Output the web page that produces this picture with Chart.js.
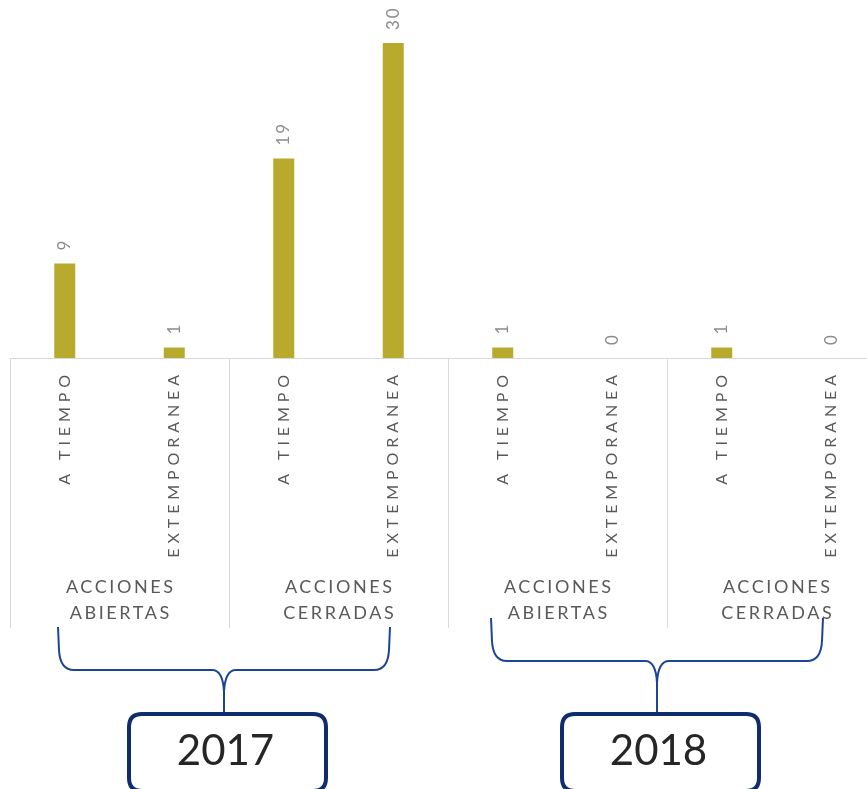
<!DOCTYPE html>
<html>
<head>
<meta charset="utf-8">
<script src="https://cdn.jsdelivr.net/npm/chart.js@4/dist/chart.umd.min.js"></script>
<style>
  html, body { margin: 0; padding: 0; background: #fff; overflow: hidden; }
</style>
</head>
<body>
<canvas id="myChart" width="900" height="789"></canvas>
<script>
// data
const subLabels = ['A TIEMPO', 'EXTEMPORANEA', 'A TIEMPO', 'EXTEMPORANEA', 'A TIEMPO', 'EXTEMPORANEA', 'A TIEMPO', 'EXTEMPORANEA']
const groupLabels = [['ACCIONES', 'ABIERTAS'], ['ACCIONES', 'CERRADAS'], ['ACCIONES', 'ABIERTAS'], ['ACCIONES', 'CERRADAS']]
const years = ['2017', '2018']
const values = [9, 1, 19, 30, 1, 0, 1, 0]

const FONT = 'Lato, "Open Sans", sans-serif'

function spacedText(ctx, text, spacing, align) {
    // draws text with letter spacing, aligned without the trailing gap
    ctx.letterSpacing = spacing + 'px'
    const w = ctx.measureText(text).width - spacing
    ctx.textAlign = 'left'
    let x0 = 0
    if (align === 'right') x0 = -w
    if (align === 'center') x0 = -w / 2
    ctx.fillText(text, x0, 0)
    ctx.letterSpacing = '0px'
}

function brace(ctx, left, right, top, hy, tip) {
    const mid = (left + right) / 2
    const r = 12
    ctx.beginPath()
    ctx.moveTo(left, top)
    ctx.lineTo(left + 1, hy - r - 8)
    ctx.quadraticCurveTo(left + 2, hy, left + r + 4, hy)
    ctx.lineTo(mid - r, hy)
    ctx.quadraticCurveTo(mid - 1, hy, mid, hy + 22)
    ctx.lineTo(mid, tip)
    ctx.moveTo(mid, hy + 22)
    ctx.quadraticCurveTo(mid + 1, hy, mid + r, hy)
    ctx.lineTo(right - r - 4, hy)
    ctx.quadraticCurveTo(right - 2, hy, right - 1, hy - r - 8)
    ctx.lineTo(right, top)
    ctx.stroke()
}

function roundBox(ctx, x, y, w, h, rad) {
    ctx.beginPath()
    ctx.moveTo(x + rad, y)
    ctx.lineTo(x + w - rad, y)
    ctx.quadraticCurveTo(x + w, y, x + w, y + rad)
    ctx.lineTo(x + w, y + h - rad)
    ctx.quadraticCurveTo(x + w, y + h, x + w - rad, y + h)
    ctx.lineTo(x + rad, y + h)
    ctx.quadraticCurveTo(x, y + h, x, y + h - rad)
    ctx.lineTo(x, y + rad)
    ctx.quadraticCurveTo(x, y, x + rad, y)
    ctx.closePath()
    ctx.stroke()
}

const labelPlugin = {
    id: 'labelPlugin',
    afterDatasetsDraw(chart) {
        const ctx = chart.ctx
        const xs = chart.scales.x
        const ys = chart.scales.y
        const base = ys.getPixelForValue(0)
        const step = xs.getPixelForValue(1) - xs.getPixelForValue(0)
        ctx.save()

        // baseline and group separators
        ctx.strokeStyle = '#d9d9d9'
        ctx.lineWidth = 1
        ctx.beginPath()
        ctx.moveTo(xs.getPixelForValue(0) - step / 2, Math.round(base) + 0.5)
        ctx.lineTo(chart.width, Math.round(base) + 0.5)
        for (let g = 0; g <= groupLabels.length; g++) {
            const sx = Math.round(xs.getPixelForValue(g * 2) - step / 2) + 0.5
            ctx.moveTo(sx, base)
            ctx.lineTo(sx, base + 270)
        }
        ctx.stroke()

        // value labels above bars
        ctx.fillStyle = '#8c8c8c'
        ctx.font = '17px ' + FONT
        ctx.textBaseline = 'middle'
        values.forEach((v, i) => {
            ctx.save()
            ctx.translate(xs.getPixelForValue(i), ys.getPixelForValue(v) - 13)
            ctx.rotate(-Math.PI / 2)
            spacedText(ctx, String(v), 2, 'left')
            ctx.restore()
        })

        // category labels
        ctx.fillStyle = '#595959'
        ctx.font = '16px ' + FONT
        subLabels.forEach((lab, i) => {
            ctx.save()
            ctx.translate(xs.getPixelForValue(i), base + 17)
            ctx.rotate(-Math.PI / 2)
            spacedText(ctx, lab, 4.9, 'right')
            ctx.restore()
        })

        // group labels
        ctx.font = '18px ' + FONT
        groupLabels.forEach((lines, g) => {
            const cx = (xs.getPixelForValue(g * 2) + xs.getPixelForValue(g * 2 + 1)) / 2
            lines.forEach((t, k) => {
                ctx.save()
                ctx.translate(cx, base + 229 + k * 26)
                spacedText(ctx, t, 2.6, 'center')
                ctx.restore()
            })
        })

        // braces and year boxes
        const braces = [
            { left: 58, right: 390, top: 627, hy: 670, tip: 712 },
            { left: 491, right: 823, top: 618, hy: 661, tip: 712 }
        ]
        const boxes = [
            { x: 129, w: 197 },
            { x: 562, w: 197 }
        ]
        ctx.strokeStyle = '#1d4596'
        ctx.lineWidth = 2
        braces.forEach(b => brace(ctx, b.left, b.right, b.top, b.hy, b.tip))

        ctx.strokeStyle = '#0f2d6e'
        ctx.lineWidth = 4
        ctx.font = '42px ' + FONT
        ctx.fillStyle = '#262626'
        ctx.textBaseline = 'middle'
        years.forEach((yr, i) => {
            const bx = boxes[i]
            roundBox(ctx, bx.x, 714, bx.w, 77, 13)
            ctx.save()
            ctx.translate(bx.x + bx.w / 2 - 2, 751)
            spacedText(ctx, yr, 0, 'center')
            ctx.restore()
        })
        ctx.restore()
    }
}

const ctx = document.getElementById('myChart').getContext('2d')
const myChart = new Chart(ctx, {
    type: 'bar',
    data: {
        labels: subLabels,
        datasets: [{
            label: 'acciones',
            data: values,
            backgroundColor: '#b7aa2d',
            barThickness: 21,
            inflateAmount: 0
        }]
    },
    options: {
        responsive: false,
        animation: false,
        layout: {
            padding: { left: 10, right: 14, top: 0, bottom: 431 }
        },
        plugins: {
            legend: { display: false },
            tooltip: { enabled: false }
        },
        scales: {
            x: { display: false },
            y: { display: false, min: 0, max: 34.1 }
        }
    },
    plugins: [labelPlugin]
})
</script>
</body>
</html>
